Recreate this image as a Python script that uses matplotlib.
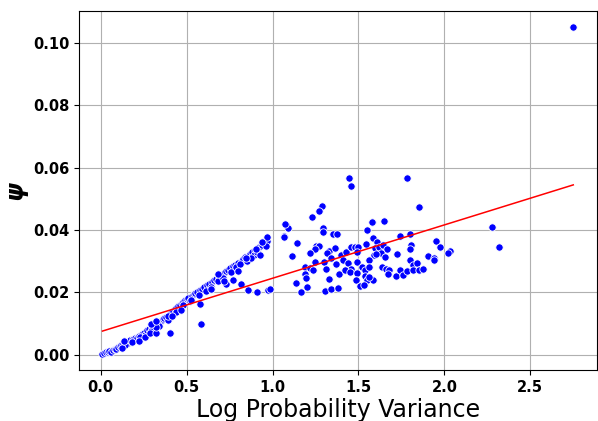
import numpy as np
import matplotlib.pyplot as plt

# diagonal band (low variance)
band_x = [0.01, 0.02, 0.03, 0.04, 0.05, 0.06, 0.07, 0.08, 0.09, 0.10, 0.11, 0.12, 0.13,
          0.15, 0.16, 0.17, 0.19, 0.20, 0.21, 0.22, 0.24, 0.25, 0.26, 0.27, 0.28, 0.30,
          0.31, 0.32, 0.33, 0.35, 0.36, 0.37, 0.38, 0.40, 0.41, 0.42, 0.43, 0.44, 0.45,
          0.46, 0.47, 0.48, 0.49, 0.50, 0.51, 0.53, 0.54, 0.55, 0.56, 0.58, 0.59, 0.60,
          0.62, 0.63, 0.65, 0.66, 0.67, 0.69, 0.70, 0.72, 0.73, 0.74, 0.75, 0.77, 0.78,
          0.80, 0.82, 0.83, 0.84, 0.86, 0.87, 0.88, 0.90, 0.92, 0.94, 0.95, 0.97,
          0.14, 0.18, 0.23, 0.29, 0.34, 0.39, 0.44, 0.48, 0.52, 0.57, 0.61, 0.64, 0.68,
          0.71, 0.76, 0.79, 0.81, 0.85, 0.89, 0.91]
band_y = [0.0003, 0.0005, 0.0007, 0.0009, 0.0012, 0.0010, 0.0016, 0.0019, 0.0017, 0.0024,
          0.0028, 0.0030, 0.0035, 0.0040, 0.0037, 0.0046, 0.0050, 0.0055, 0.0052, 0.0060,
          0.0066, 0.0070, 0.0064, 0.0078, 0.0083, 0.0088, 0.0093, 0.0098, 0.0102, 0.0108,
          0.0113, 0.0118, 0.0122, 0.0128, 0.0133, 0.0140, 0.0146, 0.0150, 0.0155, 0.0160,
          0.0165, 0.0170, 0.0174, 0.0178, 0.0183, 0.0188, 0.0193, 0.0198, 0.0202, 0.0207,
          0.0211, 0.0216, 0.0222, 0.0227, 0.0233, 0.0239, 0.0243, 0.0250, 0.0255, 0.0262,
          0.0268, 0.0273, 0.0278, 0.0284, 0.0289, 0.0295, 0.0302, 0.0307, 0.0312, 0.0318,
          0.0324, 0.0330, 0.0336, 0.0345, 0.0352, 0.0358, 0.0366,
          0.0030, 0.0040, 0.0056, 0.0075, 0.0092, 0.0110, 0.0138, 0.0158, 0.0172, 0.0190,
          0.0205, 0.0218, 0.0236, 0.0245, 0.0265, 0.0280, 0.0290, 0.0300, 0.0320, 0.0330]

# points below the band
low_x = [0.124, 0.135, 0.223, 0.256, 0.285, 0.324, 0.401, 0.324, 0.295, 0.320, 0.391, 0.415,
         0.469, 0.527, 0.585, 0.576, 0.640, 0.682, 0.731, 0.769, 0.818, 0.798, 0.715, 0.857,
         0.909, 0.975, 0.872, 0.924, 0.905, 0.959, 0.967, 0.940, 0.843]
low_y = [0.0020, 0.0045, 0.0045, 0.0058, 0.0070, 0.0070, 0.0069, 0.0088, 0.0099, 0.0107,
         0.0123, 0.0123, 0.0142, 0.0176, 0.0099, 0.0164, 0.0212, 0.0258, 0.0226, 0.0241,
         0.0226, 0.0269, 0.0236, 0.0206, 0.0201, 0.0209, 0.0309, 0.0319, 0.0338, 0.0348,
         0.0378, 0.0362, 0.0309]

# high variance cluster
cl_x = [1.066, 1.076, 1.089, 1.442, 1.459, 1.287, 1.273, 1.229, 1.070, 1.064, 1.293, 1.293,
        1.351, 1.376, 1.141, 1.114, 1.254, 1.273, 1.244, 1.215, 1.331, 1.316, 1.366, 1.399,
        1.428, 1.458, 1.477, 1.496, 1.492, 1.545, 1.577, 1.548, 1.583, 1.606, 1.593, 1.564,
        1.244, 1.186, 1.215, 1.238, 1.302, 1.341, 1.370, 1.409, 1.438, 1.458, 1.490, 1.521,
        1.535, 1.560, 1.312, 1.186, 1.196, 1.326, 1.384, 1.419, 1.448, 1.490, 1.487, 1.535,
        1.548, 1.587, 1.134, 1.202, 1.167, 1.308, 1.341, 1.380, 1.510, 1.531, 0.983,
        1.783, 1.851, 1.580, 1.647, 1.744, 1.801, 1.806, 1.802, 1.952, 1.977, 2.033, 2.019,
        1.599, 1.622, 1.645, 1.667, 1.632, 1.603, 1.657, 1.723, 1.635, 1.661, 1.676, 1.670,
        1.719, 1.742, 1.758, 1.781, 1.797, 1.816, 1.841, 1.820, 1.851, 1.878, 1.903, 1.942,
        1.938, 1.564, 2.275, 2.320, 2.750]
cl_y = [0.0382, 0.0416, 0.0405, 0.0565, 0.0540, 0.0477, 0.0462, 0.0441, 0.0418, 0.0378,
        0.0405, 0.0395, 0.0387, 0.0387, 0.0357, 0.0316, 0.0348, 0.0348, 0.0339, 0.0327,
        0.0333, 0.0327, 0.0341, 0.0319, 0.0330, 0.0344, 0.0346, 0.0346, 0.0330, 0.0355,
        0.0424, 0.0400, 0.0373, 0.0362, 0.0319, 0.0305, 0.0298, 0.0282, 0.0278, 0.0273,
        0.0298, 0.0309, 0.0290, 0.0305, 0.0293, 0.0276, 0.0298, 0.0282, 0.0271, 0.0280,
        0.0274, 0.0258, 0.0247, 0.0244, 0.0258, 0.0273, 0.0265, 0.0262, 0.0241, 0.0252,
        0.0239, 0.0239, 0.0230, 0.0217, 0.0201, 0.0204, 0.0210, 0.0214, 0.0219, 0.0225,
        0.0210,
        0.0567, 0.0475, 0.0424, 0.0429, 0.0381, 0.0386, 0.0352, 0.0338, 0.0366, 0.0346,
        0.0331, 0.0325, 0.0343, 0.0344, 0.0351, 0.0338, 0.0327, 0.0323, 0.0314, 0.0323,
        0.0282, 0.0276, 0.0273, 0.0258, 0.0252, 0.0273, 0.0255, 0.0269, 0.0303, 0.0287,
        0.0295, 0.0273, 0.0271, 0.0276, 0.0316, 0.0309, 0.0305, 0.0249, 0.0410, 0.0346,
        0.1050]

# fitted line
intercept = 0.0074
slope = 0.01711

x = np.array(band_x + low_x + cl_x)
y = np.array(band_y + low_y + cl_y)

fig = plt.figure(figsize=(5.98, 4.21), dpi=100)
ax = fig.add_axes([0.132, 0.121, 0.866, 0.853])
ax.scatter(x, y, s=28, c='blue', edgecolors='white', linewidths=0.6, zorder=3)
xl = np.array([x.min(), x.max()])
ax.plot(xl, intercept + slope * xl, color='red', lw=1.1, zorder=4)
ax.grid(True, color='#b0b0b0', lw=0.8)
ax.set_axisbelow(True)
ax.set_xticks([0.0, 0.5, 1.0, 1.5, 2.0, 2.5])
ax.set_yticks([0.0, 0.02, 0.04, 0.06, 0.08, 0.10])
ax.set_yticklabels(['0.00', '0.02', '0.04', '0.06', '0.08', '0.10'])
for t in ax.get_xticklabels() + ax.get_yticklabels():
    t.set_fontweight('bold')
    t.set_fontsize(10.5)
ax.set_xlabel('Log Probability Variance', fontsize=17, labelpad=2)
ax.set_ylabel('ψ', fontsize=17, fontweight='bold', fontstyle='italic')
fig.savefig('out.png', dpi=100)
